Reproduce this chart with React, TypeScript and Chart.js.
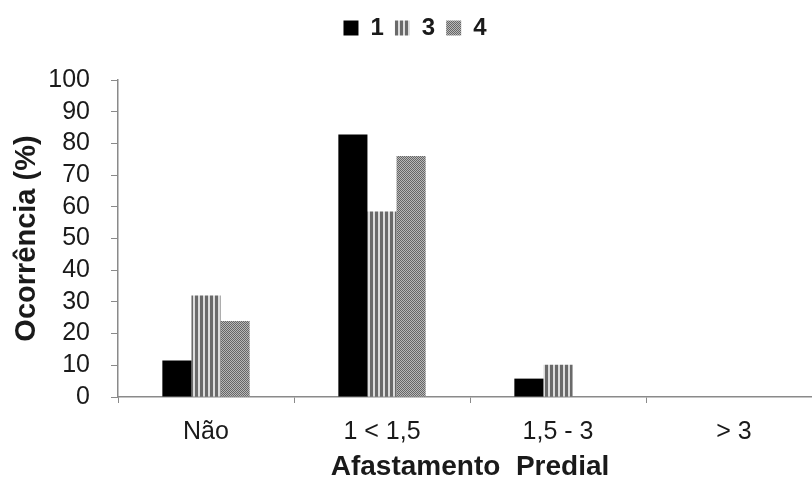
import React, { useEffect, useRef } from "react";
import { Chart, registerables } from "chart.js";

Chart.register(...registerables);

const categories = ["Não", "1 < 1,5", "1,5 - 3", "> 3"];
const seriesNames = ["1", "3", "4"];
const series1 = [11.5, 82.8, 5.8, 0];
const series3 = [32, 58.5, 10.2, 0];
const series4 = [24, 76, 0, 0];
const yTicks = [0, 10, 20, 30, 40, 50, 60, 70, 80, 90, 100];

function makeStripes(): CanvasPattern | string {
  const c = document.createElement("canvas");
  c.width = 5;
  c.height = 4;
  const g = c.getContext("2d");
  if (!g) return "#888";
  g.fillStyle = "#dcdcdc";
  g.fillRect(0, 0, 5, 4);
  g.fillStyle = "#6a6a6a";
  g.fillRect(0, 0, 3, 4);
  return g.createPattern(c, "repeat") || "#888";
}

function makeDots(): CanvasPattern | string {
  const c = document.createElement("canvas");
  c.width = 2;
  c.height = 2;
  const g = c.getContext("2d");
  if (!g) return "#888";
  g.fillStyle = "#b8b8b8";
  g.fillRect(0, 0, 2, 2);
  g.fillStyle = "#666666";
  g.fillRect(0, 0, 1, 1);
  g.fillRect(1, 1, 1, 1);
  return g.createPattern(c, "repeat") || "#888";
}

const legendSpacer = {
  id: "legendSpacer",
  beforeInit(chart: any) {
    if (!chart.legend) return;
    const origFit = chart.legend.fit;
    chart.legend.fit = function fit() {
      origFit.bind(chart.legend)();
      this.height += 30;
    };
  },
};

export default function App() {
  const ref = useRef<HTMLCanvasElement | null>(null);

  useEffect(() => {
    if (!ref.current) return;
    const stripes = makeStripes();
    const dots = makeDots();
    const textColor = "#1a1a1a";
    const axisColor = "#8a8a8a";
    const family = "'Liberation Sans', Arial, sans-serif";
    const chart = new Chart(ref.current, {
      type: "bar",
      data: {
        labels: categories,
        datasets: [
          { label: seriesNames[0], data: series1, backgroundColor: "#000000", borderWidth: 0 },
          { label: seriesNames[1], data: series3, backgroundColor: stripes as any, borderWidth: 0 },
          { label: seriesNames[2], data: series4, backgroundColor: dots as any, borderWidth: 0 },
        ],
      },
      plugins: [legendSpacer],
      options: {
        responsive: false,
        animation: false,
        layout: { padding: { left: 8, right: 8, top: 5, bottom: 0 } },
        datasets: {
          bar: { barPercentage: 1, categoryPercentage: 0.496 },
        },
        plugins: {
          tooltip: { enabled: false },
          legend: {
            position: "top",
            labels: {
              boxWidth: 15,
              boxHeight: 15,
              padding: 11,
              color: textColor,
              font: { family, size: 24, weight: "bold" },
            },
          },
        },
        scales: {
          x: {
            afterFit: (axis: any) => {
              axis.height = 88;
            },
            grid: { drawOnChartArea: false, tickLength: 6, color: axisColor, offset: true },
            border: { color: axisColor, width: 1.5 },
            ticks: {
              color: textColor,
              padding: 17,
              maxRotation: 0,
              autoSkip: false,
              font: { family, size: 25, lineHeight: 1 },
            },
            title: {
              display: true,
              text: "Afastamento  Predial",
              color: textColor,
              padding: { top: 7, bottom: 4 },
              font: { family, size: 28, weight: "bold", lineHeight: 1 },
            },
          },
          y: {
            min: 0,
            max: 100,
            afterBuildTicks: (axis: any) => {
              axis.ticks = yTicks.map((v) => ({ value: v }));
            },
            afterFit: (axis: any) => {
              axis.width = 110;
            },
            grid: { drawOnChartArea: false, tickLength: 7, color: axisColor },
            border: { color: axisColor, width: 1.5 },
            ticks: {
              color: textColor,
              padding: 21,
              autoSkip: false,
              font: { family, size: 25 },
            },
            title: {
              display: true,
              text: "Ocorrência (%)",
              color: textColor,
              padding: { top: 2, bottom: 3 },
              font: { family, size: 29, weight: "bold" },
            },
          },
        },
      },
    });
    return () => chart.destroy();
  }, []);

  return (
    <div style={{ position: "absolute", left: 0, top: 0, width: 812, height: 478, overflow: "hidden", background: "#fff" }}>
      <canvas ref={ref} width={830} height={485} style={{ width: 830, height: 485, display: "block" }} />
    </div>
  );
}
